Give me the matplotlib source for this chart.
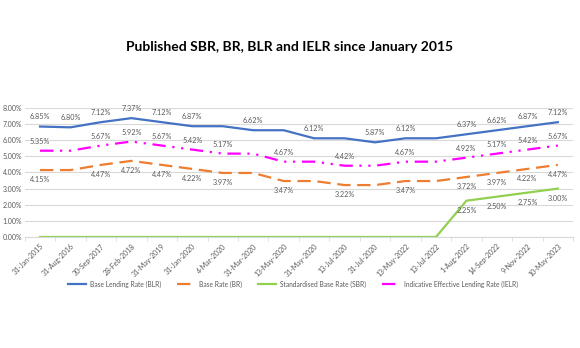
import matplotlib
matplotlib.use("Agg")
import matplotlib.pyplot as plt
import numpy as np

plt.rcParams['font.family'] = ['Lato', 'DejaVu Sans']

dates = ["31-Jan-2015", "31-Aug-2016", "30-Sep-2017", "28-Feb-2018", "31-May-2019",
         "31-Jan-2020", "4-Mar-2020", "31-Mar-2020", "13-May-2020", "31-May-2020",
         "13-Jul-2020", "31-Jul-2020", "13-May-2022", "13-Jul-2022", "1-Aug-2022",
         "14-Sep-2022", "9-Nov-2022", "10-May-2023"]
blr = [6.85, 6.80, 7.12, 7.37, 7.12, 6.87, 6.87, 6.62, 6.62, 6.12, 6.12, 5.87,
       6.12, 6.12, 6.37, 6.62, 6.87, 7.12]
br = [4.15, 4.15, 4.47, 4.72, 4.47, 4.22, 3.97, 3.97, 3.47, 3.47, 3.22, 3.22,
      3.47, 3.47, 3.72, 3.97, 4.22, 4.47]
sbr = [0, 0, 0, 0, 0, 0, 0, 0, 0, 0, 0, 0, 0, 0, 2.25, 2.50, 2.75, 3.00]
ielr = [5.35, 5.35, 5.67, 5.92, 5.67, 5.42, 5.17, 5.17, 4.67, 4.67, 4.42, 4.42,
        4.67, 4.67, 4.92, 5.17, 5.42, 5.67]

# which points carry a data label (where the value changes)
blr_lab = [0, 1, 2, 3, 4, 5, 7, 9, 11, 12, 14, 15, 16, 17]
br_lab = [0, 2, 3, 4, 5, 6, 8, 10, 12, 14, 15, 16, 17]
ielr_lab = [0, 2, 3, 4, 5, 6, 8, 10, 12, 14, 15, 16, 17]
sbr_lab = [14, 15, 16, 17]

fig = plt.figure(figsize=(5.8, 3.48), dpi=100)
ax = fig.add_axes([0.0427, 0.319, 0.9453, 0.3707])
x = np.arange(len(dates))

l1, = ax.plot(x, blr, color="#4472C4", lw=1.6, label="Base Lending Rate (BLR)")
l2, = ax.plot(x, br, color="#ED7D31", lw=1.6, dashes=(6, 3), label="Base Rate (BR)")
l3, = ax.plot(x, sbr, color="#92D050", lw=1.6, label="Standardised Base Rate (SBR)")
l4, = ax.plot(x, ielr, color="#FF00FF", lw=1.6, dashes=(6, 3, 1, 3, 1, 3),
              label="Indicative Effective Lending Rate (IELR)")

lab_col = "#595959"
def labels(vals, idx, dy):
    for i in idx:
        ax.annotate("%.2f%%" % vals[i], (x[i], vals[i]), xytext=(0, dy),
                    textcoords="offset points", ha="center", va="center",
                    fontsize=5.2, color=lab_col)

labels(blr, blr_lab, 7)
labels(br, br_lab, -7)
labels(ielr, ielr_lab, 6.5)
labels(sbr, sbr_lab, -7)

ax.set_xlim(-0.5, len(dates) - 0.5)
ax.set_ylim(0, 8)
ax.set_yticks(np.arange(0, 9, 1))
ax.set_yticklabels(["%.2f%%" % v for v in range(9)], fontsize=5, color=lab_col)
ax.set_xticks(x)
ax.set_xticklabels(dates, rotation=45, ha="right", rotation_mode="anchor",
                   fontsize=5, color=lab_col)
ax.set_xticks(np.arange(-0.5, len(dates), 1), minor=True)
ax.tick_params(axis="x", which="major", length=0, pad=4)
ax.tick_params(axis="x", which="minor", length=3, color="#d9d9d9")
ax.tick_params(axis="y", length=0, pad=2)
ax.grid(axis="y", color="#d9d9d9", lw=0.8)
ax.set_axisbelow(True)
for s in ["top", "right", "left"]:
    ax.spines[s].set_visible(False)
ax.spines["bottom"].set_color("#d9d9d9")

fig.text(0.5, 0.865, "Published SBR, BR, BLR and IELR since January 2015",
         ha="center", va="center", fontsize=10, fontweight="bold")

fig.legend(handles=[l1, l2, l3, l4], loc="center", bbox_to_anchor=(0.505, 0.184),
           ncol=4, frameon=False, fontsize=4.8, handlelength=2.8,
           handletextpad=0.6, columnspacing=2.3, labelcolor=lab_col)

fig.savefig("out.png", dpi=100)
